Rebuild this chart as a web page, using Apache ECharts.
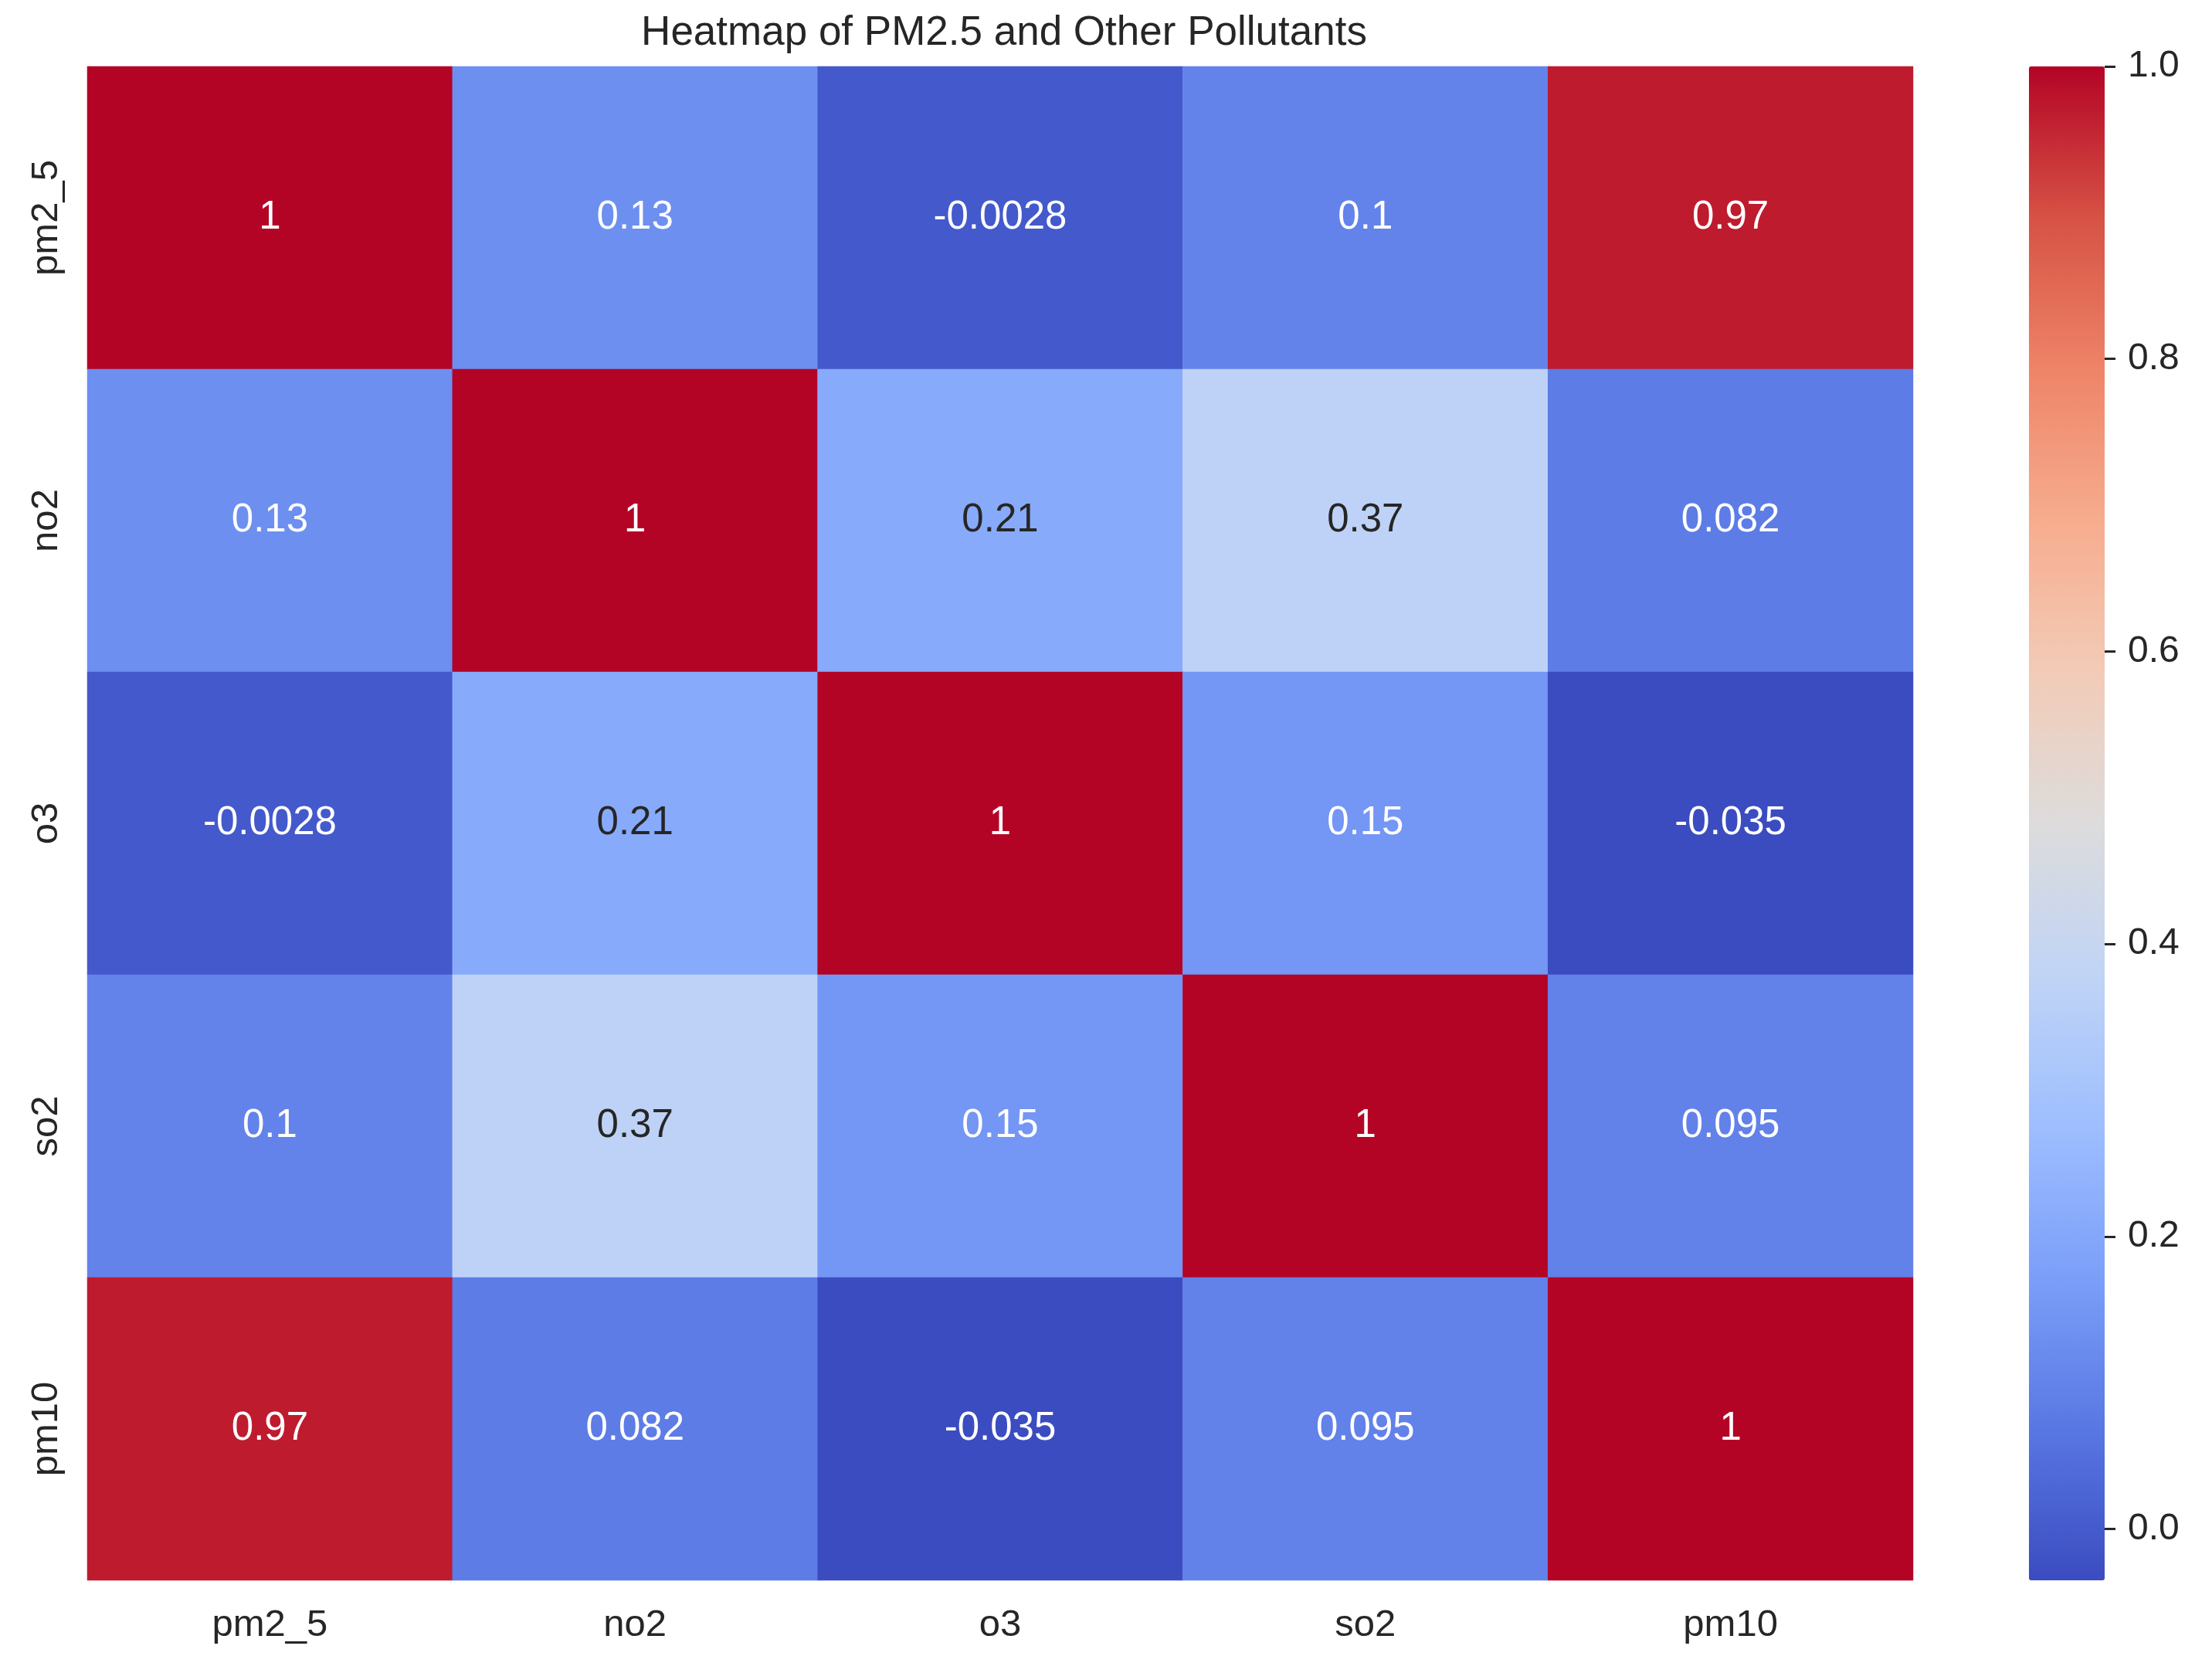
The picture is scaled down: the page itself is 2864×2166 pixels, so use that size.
<!DOCTYPE html>
<html>
<head>
<meta charset="utf-8">
<script src="https://cdn.jsdelivr.net/npm/echarts@6/dist/echarts.min.js"></script>
<style>html,body{margin:0;background:#fff}#chart{width:2864px;height:2166px}</style>
</head>
<body>
<div id="chart"></div>
<script>
var labels = ['pm2_5', 'no2', 'o3', 'so2', 'pm10'];
var matrix = [
    [1, 0.13, -0.0028, 0.1, 0.97],
    [0.13, 1, 0.21, 0.37, 0.082],
    [-0.0028, 0.21, 1, 0.15, -0.035],
    [0.1, 0.37, 0.15, 1, 0.095],
    [0.97, 0.082, -0.035, 0.095, 1]
];
var cbarTicks = [0, 0.2, 0.4, 0.6, 0.8, 1.0];
var coolwarm = ['#3b4cc0', '#5977e3', '#7b9ff9', '#9ebeff', '#c0d4f5', '#dddcdc',
    '#f2cbb7', '#f7ac8e', '#ee8468', '#d65244', '#b40426'];
var vmin = -0.035, vmax = 1;

var cells = [];
matrix.forEach(function (row, r) {
    row.forEach(function (v, c) {
        // light cells get dark text, like seaborn does
        var dark = v > 0.18 && v < 0.7;
        cells.push({ value: [c, r, v], label: { color: dark ? '#262626' : '#ffffff' } });
    });
});

var font = 'Liberation Sans';
var chart = echarts.init(document.getElementById('chart'));
chart.setOption({
    backgroundColor: '#fff',
    textStyle: { fontFamily: font },
    title: {
        text: 'Heatmap of PM2.5 and Other Pollutants',
        left: 1295, top: 12, textAlign: 'center',
        textStyle: { fontFamily: font, fontSize: 53, fontWeight: 'normal', color: '#262626' }
    },
    grid: [
        { left: 113, right: 2864 - 2477, top: 86, bottom: 2166 - 2046 },
        { left: 2627, width: 98, top: 86, bottom: 2166 - 2046 }
    ],
    xAxis: [
        { type: 'category', data: labels, gridIndex: 0,
          axisLine: { show: false }, axisTick: { show: false }, splitLine: { show: false },
          axisLabel: { fontSize: 49, color: '#262626', margin: 34 } },
        { type: 'value', gridIndex: 1, show: false, min: 0, max: 1 }
    ],
    yAxis: [
        { type: 'category', data: labels, gridIndex: 0, inverse: true,
          axisLine: { show: false }, axisTick: { show: false }, splitLine: { show: false },
          axisLabel: { fontSize: 49, color: '#262626', rotate: 90, margin: 28 } },
        { type: 'value', gridIndex: 1, position: 'right', min: vmin, max: vmax,
          axisLine: { show: false, onZero: false }, splitLine: { show: false },
          axisTick: { show: true, length: 14, lineStyle: { color: '#262626', width: 3 }, customValues: cbarTicks },
          axisLabel: { fontSize: 48, color: '#262626', margin: 30, customValues: cbarTicks,
              formatter: function (v) { return v.toFixed(1); } } }
    ],
    visualMap: {
        type: 'continuous', min: vmin, max: vmax, seriesIndex: 0,
        calculable: false, showLabel: false, text: ['', ''], padding: 0,
        left: 2627, top: 86, itemWidth: 98, itemHeight: 1960,
        inRange: { color: coolwarm }
    },
    series: [{
        type: 'heatmap', xAxisIndex: 0, yAxisIndex: 0, data: cells,
        label: { show: true, fontSize: 51, fontFamily: font,
            formatter: function (p) { return String(p.value[2]); } },
        itemStyle: { borderWidth: 0 },
        emphasis: { disabled: true }
    }]
});
</script>
</body>
</html>
